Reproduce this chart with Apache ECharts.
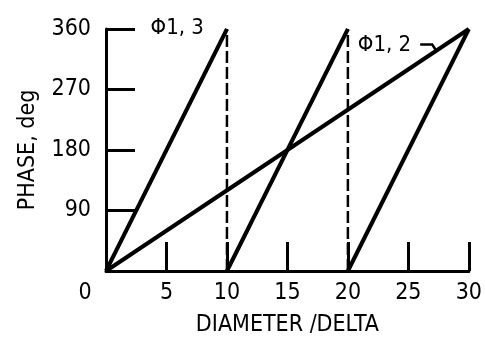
<!DOCTYPE html>
<html>
<head>
<meta charset="utf-8">
<script src="https://cdn.jsdelivr.net/npm/echarts@6/dist/echarts.min.js"></script>
<style>
  html, body { margin: 0; padding: 0; background: #fff; }
  #chart { width: 485px; height: 342px; }
</style>
</head>
<body>
<div id="chart"></div>
<script>
// 相位曲线 (DIAMETER/DELTA, PHASE deg)
var phase13a = [[0, 0], [10, 360]];
var phase13b = [[10, 0], [20, 360]];
var phase13c = [[20, 0], [30, 360]];
var phase12 = [[0, 0], [30, 360]];
// 虚线（相位跳变处）
var jumpAt = [10, 20];
var jumpRange = [0, 360];
// 标注
var label13 = 'Φ1, 3';
var label13Anchor = [10, 360];
var label12 = 'Φ1, 2';
var label12Anchor = [27.3, 328];

var tickFont = '"DejaVu Sans Condensed", "DejaVu Sans", sans-serif';
var nameFont = '"DejaVu Sans Condensed", "DejaVu Sans", sans-serif';

var chart = echarts.init(document.getElementById('chart'));

function solid(data) {
    return {
        type: 'line',
        data: data,
        symbol: 'none',
        silent: true,
        lineStyle: { color: '#000', width: 4 }
    };
}

var series = [solid(phase13a), solid(phase13b), solid(phase13c), solid(phase12)];
for (var i = 0; i < jumpAt.length; i++) {
    series.push({
        type: 'line',
        data: [[jumpAt[i], jumpRange[0]], [jumpAt[i], jumpRange[1]]],
        symbol: 'none',
        silent: true,
        lineStyle: { color: '#000', width: 2.5, type: [12, 4] }
    });
}

var option = {
    backgroundColor: '#fff',
    animation: false,
    grid: { left: 106, right: 15, top: 29, bottom: 70 },
    xAxis: {
        type: 'value',
        min: 0,
        max: 30,
        interval: 5,
        name: 'DIAMETER /DELTA',
        nameLocation: 'middle',
        nameGap: 43,
        nameTextStyle: { color: '#000', fontFamily: nameFont, fontSize: 23 },
        axisLine: { lineStyle: { color: '#000', width: 3 } },
        axisTick: { inside: true, length: 29, lineStyle: { color: '#000', width: 3 } },
        splitLine: { show: false },
        axisLabel: {
            color: '#000',
            fontFamily: tickFont,
            fontSize: 23,
            margin: 11,
            formatter: function (v) {
                return v === 0 ? '{z|0}' : String(v);
            },
            rich: {
                z: { fontFamily: tickFont, fontSize: 23, color: '#000', padding: [0, 42, 0, 0] }
            }
        }
    },
    yAxis: {
        type: 'value',
        min: 0,
        max: 360,
        interval: 90,
        name: 'PHASE, deg',
        nameLocation: 'middle',
        nameRotate: 90,
        nameGap: 66,
        nameTextStyle: { color: '#000', fontFamily: nameFont, fontSize: 23 },
        axisLine: { show: true, lineStyle: { color: '#000', width: 3 } },
        axisTick: { inside: true, length: 29, lineStyle: { color: '#000', width: 3 } },
        splitLine: { show: false },
        axisLabel: {
            color: '#000',
            fontFamily: tickFont,
            fontSize: 23,
            margin: 15,
            showMinLabel: false
        }
    },
    series: series
};
chart.setOption(option);

// Φ1,3 / Φ1,2 标签和引线
var p13 = chart.convertToPixel({ gridIndex: 0 }, label13Anchor);
var p12 = chart.convertToPixel({ gridIndex: 0 }, label12Anchor);
chart.setOption({
    graphic: [{
        type: 'text',
        silent: true,
        x: p13[0] - 23,
        y: p13[1] - 1,
        style: {
            text: label13,
            fill: '#000',
            font: '22px ' + tickFont,
            align: 'right',
            verticalAlign: 'middle'
        }
    }, {
        type: 'polyline',
        silent: true,
        shape: { points: [[p12[0] - 16, p12[1] - 6], [p12[0] - 4, p12[1] - 6], [p12[0], p12[1]]] },
        style: { stroke: '#000', lineWidth: 2.5, fill: null }
    }, {
        type: 'text',
        silent: true,
        x: p12[0] - 25,
        y: p12[1] - 5,
        style: {
            text: label12,
            fill: '#000',
            font: '22px ' + tickFont,
            align: 'right',
            verticalAlign: 'middle'
        }
    }]
});
</script>
</body>
</html>
